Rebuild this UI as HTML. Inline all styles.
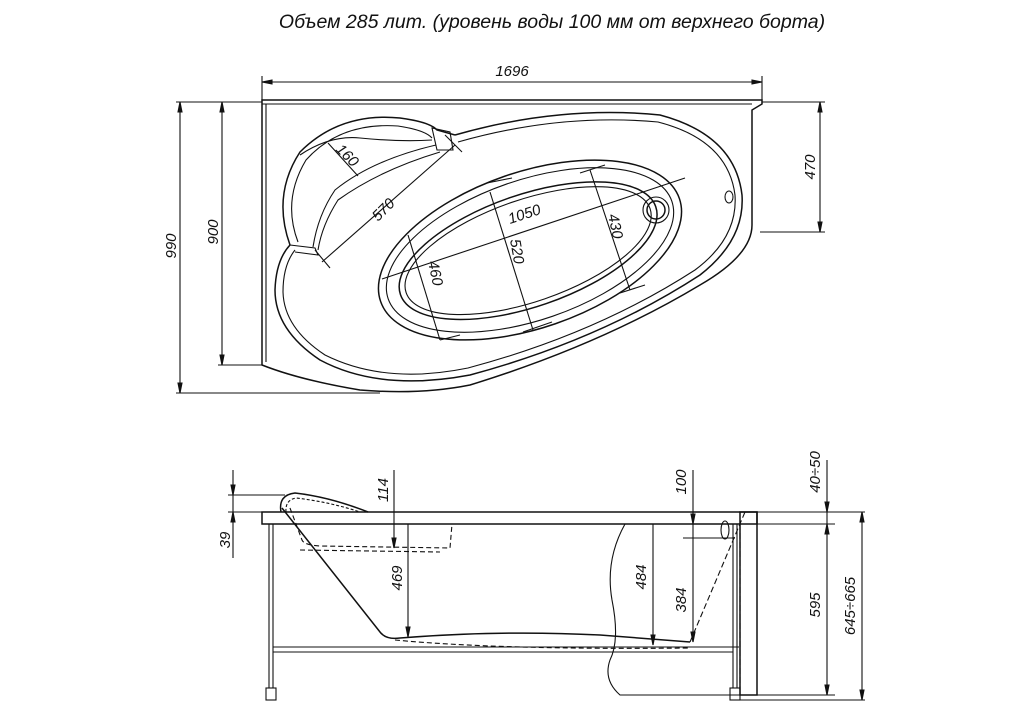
<!DOCTYPE html>
<html><head><meta charset="utf-8"><style>
html,body{margin:0;padding:0;background:#fff;width:1024px;height:720px;overflow:hidden}
svg{display:block}
text{font-family:"Liberation Sans",sans-serif;font-style:italic;fill:#111}
</style></head><body>
<svg width="1024" height="720" viewBox="0 0 1024 720" xmlns="http://www.w3.org/2000/svg">
<text x="552" y="28" font-size="19.5" text-anchor="middle">Объем 285 лит. (уровень воды 100 мм от верхнего борта)</text>
<g stroke="#111" fill="none" stroke-width="1.1">
<line x1="262" y1="82" x2="762" y2="82"/><line x1="262" y1="76" x2="262" y2="100"/><line x1="762" y1="76" x2="762" y2="100"/>
<path d="M262 82l10 -2v4z M762 82l-10 -2v4z" fill="#111"/>
<line x1="176" y1="102" x2="262" y2="102"/><line x1="176" y1="393" x2="380" y2="393"/>
<line x1="180" y1="102" x2="180" y2="393"/><line x1="222" y1="102" x2="222" y2="365"/><line x1="218" y1="365" x2="262" y2="365"/>
<line x1="762" y1="102" x2="825" y2="102"/><line x1="760" y1="232" x2="825" y2="232"/><line x1="820" y1="102" x2="820" y2="232"/>
<path d="M180 102l-2 10h4z M180 393l-2 -10h4z M222 102l-2 10h4z M222 365l-2 -10h4z M820 102l-2 10h4z M820 232l-2 -10h4z" fill="#111"/>
<path d="M262 100 H762 V104 L752 110 V225 Q752 255 700 285 Q600 345 470 385 Q420 395 360 390 Q300 380 262 365 Z" stroke-width="1.5"/>
<line x1="262" y1="104" x2="752" y2="104"/>
<line x1="266" y1="104" x2="266" y2="362"/>
<path d="M455 135 Q560 105 660 115 Q735 135 742 195 Q745 240 700 275 Q600 340 470 375 Q380 392 320 360 Q275 330 275 290 Q276 260 290 245" stroke-width="1.5"/>
<path d="M458 142 Q560 113 658 122 Q728 140 735 195 Q738 238 695 270 Q596 334 468 368 Q385 385 325 355 Q284 328 283 292 Q283 265 295 250"/>
<path d="M290 245 Q272 195 300 152 Q340 112 400 118 Q430 122 437 130 L455 135" stroke-width="1.5"/>
<path d="M298 242 Q282 200 306 160 Q340 122 398 126 Q425 130 432 138"/>
<path d="M432 128 L450 132 L453 150 L437 150 Z"/>
<path d="M290 245 L315 248 L318 255 L295 252"/>
<path d="M318 250 Q322 225 338 200 Q380 170 440 152"/>
<path d="M313 247 Q318 215 335 190 Q372 160 436 145"/>
<path d="M300 155 Q330 135 360 138 Q400 142 432 140" />
<g transform="rotate(-19 530 250)">
<ellipse cx="530" cy="250" rx="158" ry="78" stroke-width="1.5"/>
<ellipse cx="530" cy="250" rx="150" ry="70"/>
<ellipse cx="528" cy="250" rx="135" ry="56" stroke-width="1.5"/>
<ellipse cx="528" cy="250" rx="129" ry="51"/>
</g>
<circle cx="656" cy="210" r="13"/><circle cx="656" cy="210" r="9" stroke-width="1.5"/>
<ellipse cx="729" cy="197" rx="4" ry="6"/>
<line x1="328" y1="143" x2="358" y2="176"/>
<line x1="322" y1="262" x2="455" y2="145"/><line x1="315" y1="250" x2="330" y2="268"/><line x1="445" y1="135" x2="462" y2="152"/>
<line x1="382" y1="279" x2="685" y2="178"/>
<line x1="490" y1="192" x2="533" y2="330"/><line x1="487" y1="183" x2="512" y2="178"/><line x1="523" y1="332" x2="552" y2="322"/>
<line x1="590" y1="170" x2="630" y2="290"/><line x1="580" y1="173" x2="605" y2="165"/><line x1="620" y1="293" x2="645" y2="285"/>
<line x1="408" y1="235" x2="440" y2="340"/><line x1="440" y1="340" x2="460" y2="335"/>
</g>
<text font-size="15" transform="translate(335,150) rotate(45)">160</text>
<text font-size="15" transform="translate(378,222) rotate(-45)">570</text>
<text font-size="15" transform="translate(510,224) rotate(-18)">1050</text>
<text font-size="15" transform="translate(510,240) rotate(80)">520</text>
<text font-size="15" transform="translate(608,215) rotate(78)">430</text>
<text font-size="15" transform="translate(428,262) rotate(78)">460</text>
<text font-size="15" x="512" y="76" text-anchor="middle">1696</text>
<text font-size="15" transform="translate(176,246) rotate(-90)" text-anchor="middle">990</text>
<text font-size="15" transform="translate(218,232) rotate(-90)" text-anchor="middle">900</text>
<text font-size="15" transform="translate(815,167) rotate(-90)" text-anchor="middle">470</text>
<g stroke="#111" fill="none" stroke-width="1.1">
<rect x="262" y="512" width="495" height="12" stroke-width="1.5"/>
<rect x="740" y="512" width="17" height="183" stroke-width="1.5"/>
<line x1="269" y1="524" x2="269" y2="688"/><line x1="273" y1="524" x2="273" y2="688"/>
<rect x="266" y="688" width="10" height="12"/>
<line x1="733" y1="524" x2="733" y2="688"/><line x1="737" y1="524" x2="737" y2="688"/>
<rect x="730" y="688" width="10" height="12"/>
<line x1="273" y1="647" x2="733" y2="647"/><line x1="273" y1="652" x2="733" y2="652"/>
<path d="M281 512 Q278 495 295 493 Q330 497 368 512" stroke-width="1.5"/>
<path d="M286 512 Q285 500 296 498 Q330 502 360 512" stroke-dasharray="3 2"/>
<path d="M282 508 L380 632 Q386 640 400 638 Q500 630 600 635 L690 642" stroke-width="1.5"/>
<path d="M290 508 L302 540 Q304 545 320 546 L450 548 L452 524" stroke-dasharray="5 3"/>
<path d="M300 550 L440 552" stroke-dasharray="5 3"/>
<path d="M395 640 Q500 650 690 648" stroke-dasharray="5 3"/>
<path d="M690 642 L745 512" stroke-dasharray="6 3"/>
<line x1="740" y1="524" x2="740" y2="690" stroke-dasharray="6 3"/>
<line x1="688" y1="647" x2="740" y2="647" stroke-dasharray="6 3"/>
<path d="M625 524 Q605 560 612 600 Q620 640 610 660 Q603 680 620 695 H740"/>
<ellipse cx="725" cy="530" rx="4" ry="9"/>
<line x1="228" y1="495" x2="285" y2="495"/><line x1="228" y1="512" x2="262" y2="512"/>
<line x1="233" y1="470" x2="233" y2="558"/>
<line x1="394" y1="470" x2="394" y2="548"/><line x1="408" y1="524" x2="408" y2="637"/>
<line x1="653" y1="524" x2="653" y2="645"/><line x1="693" y1="470" x2="693" y2="642"/>
<line x1="683" y1="538" x2="735" y2="538"/>
<line x1="757" y1="512" x2="865" y2="512"/><line x1="757" y1="524" x2="835" y2="524"/>
<line x1="757" y1="695" x2="835" y2="695"/><line x1="740" y1="700" x2="865" y2="700"/>
<line x1="827" y1="460" x2="827" y2="695"/><line x1="862" y1="512" x2="862" y2="700"/>
<path d="M862 512l-2 10h4z M862 700l-2 -10h4z M827 524l-2 10h4z M827 695l-2 -10h4z M827 512l-2 -10h4z M394 548l-2 -10h4z M408 637l-2 -10h4z M653 645l-2 -10h4z M693 642l-2 -10h4z M693 524l-2 -10h4z M233 495l-2 -10h4z M233 512l-2 10h4z" fill="#111"/>
</g>
<text font-size="15" transform="translate(230,540) rotate(-90)" text-anchor="middle">39</text>
<text font-size="15" transform="translate(388,490) rotate(-90)" text-anchor="middle">114</text>
<text font-size="15" transform="translate(402,578) rotate(-90)" text-anchor="middle">469</text>
<text font-size="15" transform="translate(646,577) rotate(-90)" text-anchor="middle">484</text>
<text font-size="15" transform="translate(686,600) rotate(-90)" text-anchor="middle">384</text>
<text font-size="15" transform="translate(686,482) rotate(-90)" text-anchor="middle">100</text>
<text font-size="15" transform="translate(820,472) rotate(-90)" text-anchor="middle">40÷50</text>
<text font-size="15" transform="translate(820,605) rotate(-90)" text-anchor="middle">595</text>
<text font-size="15" transform="translate(855,606) rotate(-90)" text-anchor="middle">645÷665</text>
</svg>
</body></html>
